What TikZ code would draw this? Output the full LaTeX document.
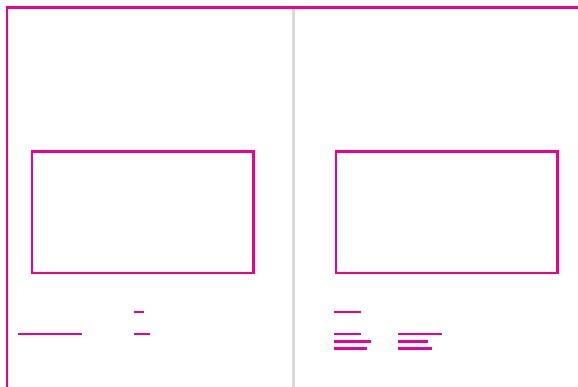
\documentclass[tikz,border=0pt]{standalone}
\definecolor{mag}{RGB}{236,0,140}
\definecolor{sep}{RGB}{217,217,217}
\tikzset{
  frameline/.style={draw=mag, line width=2.4pt},
  textbar/.style={draw=mag, line width=2.3pt},
  imgbox/.style={draw=mag, line width=2.6pt, fill=none},
  divider/.style={draw=sep, line width=3pt}
}
\begin{document}
\begin{tikzpicture}[x=1pt,y=-1pt]
\useasboundingbox (0,0) rectangle (578,387);
% frame
\draw[frameline] (578,7.5) -- (7,7.5) -- (7,387);
% divider
\draw[divider] (293.5,9) -- (293.5,387);
% image boxes
\draw[imgbox] (32,151.5) rectangle (253.5,273);
\draw[imgbox] (336,151.5) rectangle (557.5,273);
% left text bars
\draw[textbar] (18,334) -- (82,334);
\draw[textbar] (134,312) -- (144,312);
\draw[textbar] (134,334) -- (150,334);
% right text bars
\draw[textbar] (334,312) -- (361,312);
\draw[textbar] (334,334) -- (361,334);
\draw[textbar] (334,341.5) -- (371,341.5);
\draw[textbar] (334,348.5) -- (367,348.5);
\draw[textbar] (398,334) -- (442,334);
\draw[textbar] (398,341.5) -- (428,341.5);
\draw[textbar] (398,348.5) -- (432,348.5);
\end{tikzpicture}
\end{document}
